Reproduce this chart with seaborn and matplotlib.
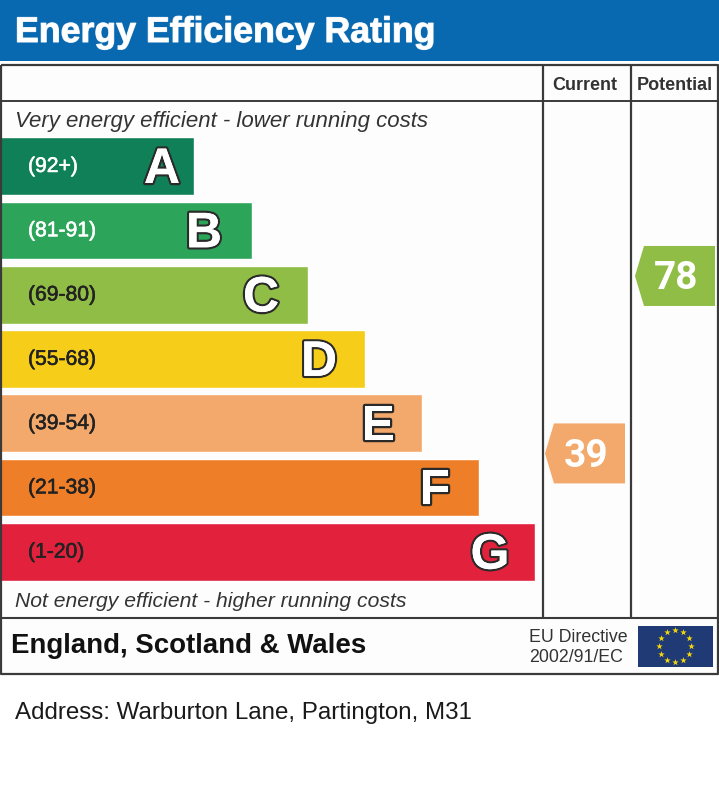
import numpy as np
import matplotlib
matplotlib.use("Agg")
import matplotlib.pyplot as plt
import matplotlib.patheffects as pe
from matplotlib.patches import Polygon, Rectangle
import seaborn as sns

title = "Energy Efficiency Rating"
bands = ["A", "B", "C", "D", "E", "F", "G"]
ranges = ["(92+)", "(81-91)", "(69-80)", "(55-68)", "(39-54)", "(21-38)", "(1-20)"]
band_low = [92, 81, 69, 55, 39, 21, 1]
band_high = [100, 91, 80, 68, 54, 38, 20]
bar_lengths = [194, 252, 308, 365, 422, 479, 535]
letter_inset = [32, 48, 47, 46, 44, 44, 45]
bar_colors = ["#0f8058", "#2ca55a", "#8fbd45", "#f6cd18", "#f3a96b", "#ee7f28", "#e2213d"]
current_score = 39
potential_score = 78
top_note = "Very energy efficient - lower running costs"
bottom_note = "Not energy efficient - higher running costs"
col_heads = ["Current", "Potential"]
region = "England, Scotland & Wales"
directive = ["EU Directive", "2002/91/EC"]
address = "Address: Warburton Lane, Partington, M31"

W, H = 719, 805
sns.set_theme(style="white")
plt.rcParams["font.family"] = ["Liberation Sans", "DejaVu Sans"]
fig = plt.figure(figsize=(W / 100, H / 100), dpi=100, facecolor="white")

# background panel under the bars
bg = fig.add_axes([0, 0, 1, 1], zorder=-1)
bg.axis("off")
bg.set_xlim(0, W)
bg.set_ylim(H, 0)
bg.add_patch(Rectangle((1, 65), W - 2, 610, fc="#fdfdfd", ec="none"))

# bars on their own axes, one categorical slot per band
top, bottom = 134.0, 584.0
bar_ax = fig.add_axes([0, 1 - bottom / H, 1, (bottom - top) / H], zorder=0)
sns.barplot(x=bar_lengths, y=bands, hue=bands, palette=bar_colors, legend=False,
            width=0.9, saturation=1, ax=bar_ax, orient="h")
bar_ax.set_xlim(0, W)
bar_ax.axis("off")
bar_ax.patch.set_alpha(0)

# page axes in pixel units
ax = fig.add_axes([0, 0, 1, 1], zorder=2)
ax.set_xlim(0, W)
ax.set_ylim(H, 0)
ax.axis("off")
ax.patch.set_alpha(0)

# header band
ax.add_patch(Rectangle((0, 0), W, 61.5, fc="#0869b0", ec="none", zorder=1))
ax.text(15, 32.5, title, color="white", fontsize=25.7, fontweight="bold", va="center", ha="left",
        zorder=5, path_effects=[pe.withStroke(linewidth=0.8, foreground="#dfe9f3")])

for i, (rng, band, length, inset) in enumerate(zip(ranges, bands, bar_lengths, letter_inset)):
    ink = "white" if i < 2 else "#222222"
    bar_ax.text(28, i + 0.005, rng, color=ink, fontsize=15.2, va="center", ha="left",
                path_effects=[pe.withStroke(linewidth=0.4, foreground=ink)])
    bar_ax.text(length - inset, i + 0.06, band, color="white", fontsize=36, fontweight="bold",
                va="center", ha="center",
                path_effects=[pe.withStroke(linewidth=3.2, foreground="#2a2a2a"), pe.Normal()])

# frame lines
line = dict(color="#3a3a3a", solid_capstyle="butt", zorder=6)
ax.plot([1, 718, 718, 1, 1], [65.5, 65.5, 674, 674, 65.5], lw=1.6, **line)
ax.plot([1, 718], [101, 101], lw=1.4, **line)
ax.plot([1, 718], [617.5, 617.5], lw=1.5, **line)
ax.plot([542.5, 542.5], [65.5, 617.5], lw=1.6, **line)
ax.plot([630.5, 630.5], [65.5, 617.5], lw=1.6, **line)

# column heads
ax.text(585, 85, col_heads[0], fontsize=13, fontweight="bold", color="#333333", ha="center", va="center", zorder=7)
ax.text(674.5, 85, col_heads[1], fontsize=13, fontweight="bold", color="#333333", ha="center", va="center", zorder=7)

# notes
ax.text(15, 121, top_note, fontsize=16, style="italic", color="#333333", va="center", zorder=7)
ax.text(15, 601, bottom_note, fontsize=15.2, style="italic", color="#333333", va="center", zorder=7)


def score_y(score):
    """Pixel y of a score within its rating band."""
    for i, (lo, hi) in enumerate(zip(band_low, band_high)):
        if lo <= score <= hi:
            frac = (hi + 0.5 - score) / (hi - lo + 1)
            pos = i - 0.5 + frac
            return top + (pos + 0.5) * (bottom - top) / len(bands), i
    raise ValueError(score)


def score_tag(score, left, right):
    y, i = score_y(score)
    notch = left + 9
    half = 30
    ax.add_patch(Polygon([(left, y), (notch, y - half), (right, y - half), (right, y + half), (notch, y + half)],
                         closed=True, fc=bar_colors[i], ec="none", zorder=7))
    ax.text((notch + right) / 2 - 3, y + 3, str(score), color="white", fontsize=28,
            fontweight="bold", ha="center", va="center", zorder=8,
            family=["Roboto", "Liberation Sans"])


score_tag(current_score, 545, 625)
score_tag(potential_score, 635, 715)

# footer
ax.text(11, 646, region, fontsize=19.9, fontweight="bold", color="#111111", va="center", zorder=7)
ax.text(529, 637, directive[0], fontsize=12.8, color="#333333", va="center", zorder=7)
ax.text(529, 657, directive[1], fontsize=12.8, color="#333333", va="center", zorder=7)

# EU flag
fx0, fx1, fy0, fy1 = 637.5, 712.5, 625.5, 667
ax.add_patch(Rectangle((fx0, fy0), fx1 - fx0, fy1 - fy0, fc="#1f3a74", ec="none", zorder=7))
ang = np.deg2rad(np.arange(0, 360, 30))
ax.scatter((fx0 + fx1) / 2 + 16 * np.cos(ang), (fy0 + fy1) / 2 + 16 * np.sin(ang),
           marker="*", s=24, c="#f5d90a", linewidths=0, zorder=8)

ax.text(15, 713, address, fontsize=17.4, color="#1a1a1a", va="center", zorder=7)

fig.savefig("out.png", dpi=100, facecolor="white")
